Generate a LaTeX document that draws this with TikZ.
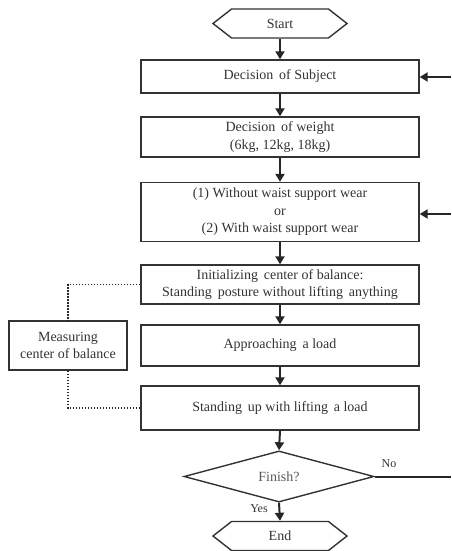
\documentclass[tikz,border=0pt]{standalone}
\usepackage{fontspec}
\setmainfont{Liberation Serif}
\usetikzlibrary{arrows.meta,positioning,shapes.geometric,shapes.symbols}
\tikzset{
  flow-step/.style={draw=black!80, line width=1.4pt, minimum width=278pt, align=center,
    font=\fontsize{14}{17.5}\selectfont, text=black!80, inner sep=2pt},
  flow-term/.style={draw=black!80, line width=1.4pt, signal, signal to=west and east,
    signal pointer angle=76, minimum width=134pt, minimum height=29pt, inner sep=0pt,
    font=\fontsize{14}{17.5}\selectfont, text=black!80},
  flow-decision/.style={draw=black!80, line width=1.4pt, diamond, minimum width=190pt,
    minimum height=49pt, inner sep=0pt, font=\fontsize{14}{17.5}\selectfont, text=black!65},
  flow-arrow/.style={-{Triangle[length=8pt, width=9pt]}, line width=2pt, black!85},
  flow-dots/.style={line width=1.6pt, dash pattern=on 1.6pt off 1.4pt, black!85}
}
\begin{document}
\begin{tikzpicture}[x=1pt, y=-1pt]
  \useasboundingbox (0,0) rectangle (451,551);

  % Main sequence
  \node[flow-term] (start) at (280,23.5) {Start};
  \node[flow-step, minimum height=33pt] (subj) at (280,76.5) {Decision\, of Subject};
  \node[flow-step, minimum height=40pt] (weight) at (280,137) {Decision\, of weight\\(6kg, 12kg, 18kg)};
  \node[flow-step, minimum height=59pt] (wear) at (280,212) {(1) Without waist support wear\\or\\(2) With waist support wear};
  \node[flow-step, minimum height=39pt] (init) at (280,284.5) {Initializing\, center of balance:\\Standing\, posture without lifting\, anything};
  \node[flow-step, minimum height=41pt] (appr) at (280,345.5) {Approaching\, a load};
  \node[flow-step, minimum height=44pt] (lift) at (280,408) {Standing\, up with lifting\, a load};
  \node[flow-decision] (fin) at (279,476.5) {Finish?};
  \node[flow-term] (end) at (280,536) {End};
  \draw[flow-arrow] (start.south) -- (subj.north);
  \draw[flow-arrow] (subj.south) -- (weight.north);
  \draw[flow-arrow] (weight.south) -- (wear.north);
  \draw[flow-arrow] (wear.south) -- (init.north);
  \draw[flow-arrow] (init.south) -- (appr.north);
  \draw[flow-arrow] (appr.south) -- (lift.north);
  \draw[flow-arrow] (lift.south) -- (fin.north);
  \draw[flow-arrow] (fin.south) -- (end.north);
  \node[font=\fontsize{12}{14}\selectfont, text=black!80] (yes) at (259,509) {Yes};

  % Loop back
  \coordinate (nox) at (451,476.5);
  \coordinate (back1) at (451,77);
  \coordinate (back2) at (451,214);
  \draw[line width=2pt, black!85] (fin.east) -- (nox);
  \node[font=\fontsize{12}{14}\selectfont, text=black!80] (no) at (389,464) {No};
  \draw[flow-arrow] (back1) -- (subj.east |- back1);
  \draw[flow-arrow] (back2) -- (wear.east |- back2);

  % Measurement
  \node[flow-step, minimum width=118pt, minimum height=49pt] (meas) at (68,345.5) {Measuring\\center of balance};
  \draw[flow-dots] (init.west) -| (meas.north);
  \draw[flow-dots] (meas.south) |- (lift.west);
\end{tikzpicture}
\end{document}
